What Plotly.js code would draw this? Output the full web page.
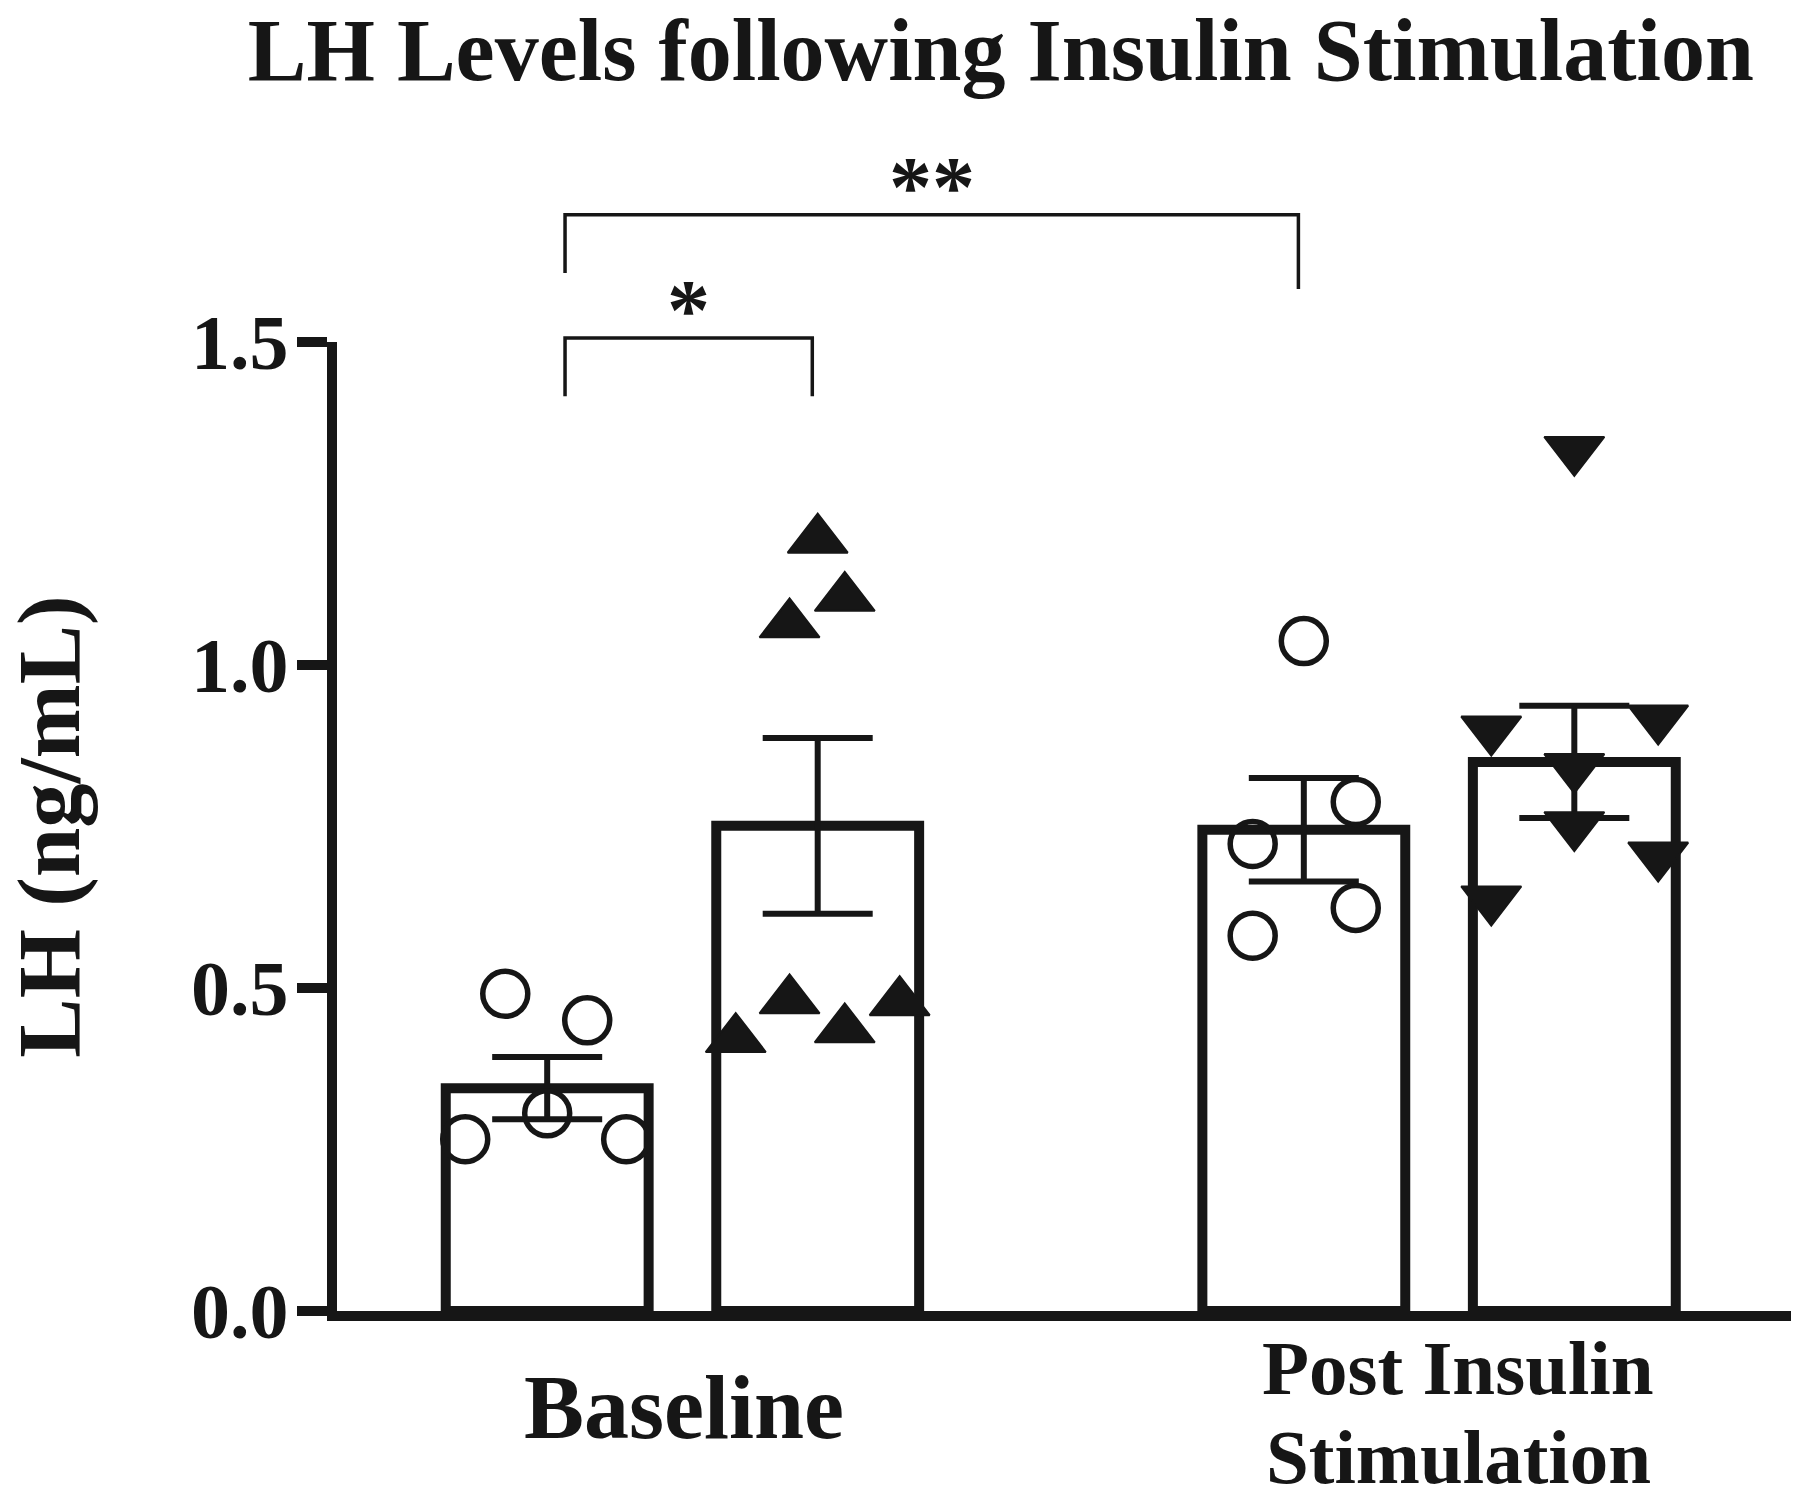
<!DOCTYPE html>
<html><head><meta charset="utf-8">
<script src="https://cdn.plot.ly/plotly-3.0.1.min.js"></script>
<style>html,body{margin:0;padding:0;background:#fff}</style>
</head><body><div id="chart" style="width:1800px;height:1501px"></div>
<script>
// ---------- data ----------
const groupLabels = ['Baseline', 'Post Insulin<br>Stimulation'];
const barGroup = [0, 0, 1, 1];
const barSlot = [0, 1, 0, 1];
const barMeans = [0.345, 0.751, 0.745, 0.850];
const barSEM = [0.048, 0.136, 0.080, 0.087];
const pointsBar1 = [0.491, 0.450, 0.306, 0.266, 0.266];
const pointsBar2 = [1.194, 1.104, 1.063, 0.481, 0.478, 0.436, 0.421];
const pointsBar3 = [1.037, 0.788, 0.723, 0.624, 0.581];
const pointsBar4 = [1.333, 0.917, 0.900, 0.842, 0.752, 0.705, 0.637];
const yTickVals = [0.0, 0.5, 1.0, 1.5];
const yTickText = ['0.0', '0.5', '1.0', '1.5'];
const sigFrom = [0, 0];
const sigTo = [1, 2];
const sigLabels = ['*', '**'];
const sigTop = [1.506, 1.697];
const sigLegFrom = [1.416, 1.607];
const sigLegTo = [1.416, 1.582];

// ---------- layout helpers (positions / styles) ----------
const jitter = [
  [-0.155, 0.148, 0, -0.303, 0.292],
  [0, 0.1, -0.104, -0.104, 0.303, 0.1, -0.303],
  [0, 0.192, -0.189, 0.192, -0.189],
  [0, 0.31, -0.307, 0, 0, 0.31, -0.307]
];
const groupSpacing = 2.797;
const slotOffset = [-0.5, 0.5];
const barX = barGroup.map((g, i) => g * groupSpacing + slotOffset[barSlot[i]]);
const groupX = groupLabels.map((_, g) => g * groupSpacing);
const ink = '#161616';
const serif = 'Liberation Serif, Times New Roman, serif';
const allPoints = [pointsBar1, pointsBar2, pointsBar3, pointsBar4];
const symbols = ['circle-open', 'triangle-up', 'circle-open', 'triangle-down'];
const yMax = 1.5;
const plotH = 1501 - 342 - 190;

const traces = [{
  type: 'bar', x: barX, y: barMeans, width: 0.75,
  marker: {color: 'rgba(255,255,255,0)', line: {color: ink, width: 10}},
  error_y: {type: 'data', array: barSEM, visible: true, color: ink, thickness: 6, width: 55},
  hoverinfo: 'y', showlegend: false
}];
allPoints.forEach((pts, i) => {
  const open = symbols[i].indexOf('open') >= 0;
  traces.push({
    type: 'scatter', mode: 'markers',
    x: pts.map((_, j) => barX[i] + jitter[i][j]), y: pts,
    marker: open ? {symbol: symbols[i], size: 45, color: ink, line: {color: ink, width: 5.5}}
                 : {symbol: symbols[i], size: 52, color: ink, line: {color: ink, width: 2}},
    cliponaxis: false, showlegend: false, hoverinfo: 'y'
  });
});

const shapes = [];
const annotations = [];
const legShift = [0.066, -0.02];
sigLabels.forEach((lab, k) => {
  const x1 = barX[sigFrom[k]] + legShift[0], x2 = barX[sigTo[k]] + legShift[1];
  shapes.push({type: 'path', xref: 'x', yref: 'paper',
    path: `M ${x1},${sigLegFrom[k] / yMax} L ${x1},${sigTop[k] / yMax} L ${x2},${sigTop[k] / yMax} L ${x2},${sigLegTo[k] / yMax}`,
    line: {color: ink, width: 3.5}});
  annotations.push({xref: 'x', yref: 'paper', x: (x1 + x2) / 2, y: sigTop[k] / yMax,
    yanchor: 'bottom', xanchor: 'center', yshift: -22, showarrow: false, text: lab,
    font: {family: serif, size: 86, color: ink, weight: 'bold'}});
});
// category labels, one annotation per text line
const labelSizes = [90, 77];
const labelTopPx = [1356, 1323];
const labelLineGap = 89;
const labelShift = [2, 19];
groupLabels.forEach((lab, g) => {
  lab.split('<br>').forEach((line, k) => {
    const topPx = labelTopPx[g] + k * labelLineGap;
    annotations.push({xref: 'x', yref: 'paper', x: groupX[g], y: -(topPx - (1501 - 190)) / plotH,
      xshift: labelShift[g], xanchor: 'center', yanchor: 'top', showarrow: false, text: line,
      font: {family: serif, size: labelSizes[g], color: ink, weight: 'bold'}});
  });
});

const layout = {
  width: 1800, height: 1501,
  paper_bgcolor: '#fff', plot_bgcolor: '#fff',
  margin: {l: 337, r: 9, t: 342, b: 190},
  title: {text: 'LH Levels following Insulin Stimulation', x: 0.556, xref: 'container', xanchor: 'center',
    y: 1 - 49 / 1501, yref: 'container', yanchor: 'middle',
    font: {family: serif, size: 88, color: ink, weight: 'bold'}},
  xaxis: {range: [-1.277, 4.098], showline: true, linewidth: 10, linecolor: ink,
    showticklabels: false, ticks: '', showgrid: false, zeroline: false, fixedrange: true},
  yaxis: {range: [0, yMax], tickvals: yTickVals, ticktext: yTickText, ticks: 'outside',
    ticklen: 30, tickwidth: 10, tickcolor: ink, showline: true, linewidth: 10, linecolor: ink,
    ticklabelstandoff: -7,
    showgrid: false, zeroline: false, fixedrange: true,
    tickfont: {family: serif, size: 78, color: ink, weight: 'bold'},
    title: {text: 'LH (ng/mL)', standoff: 130, font: {family: serif, size: 89, color: ink, weight: 'bold'}}},
  shapes: shapes, annotations: annotations, showlegend: false
};
Plotly.newPlot('chart', traces, layout, {displayModeBar: false, staticPlot: true});
</script></body></html>
